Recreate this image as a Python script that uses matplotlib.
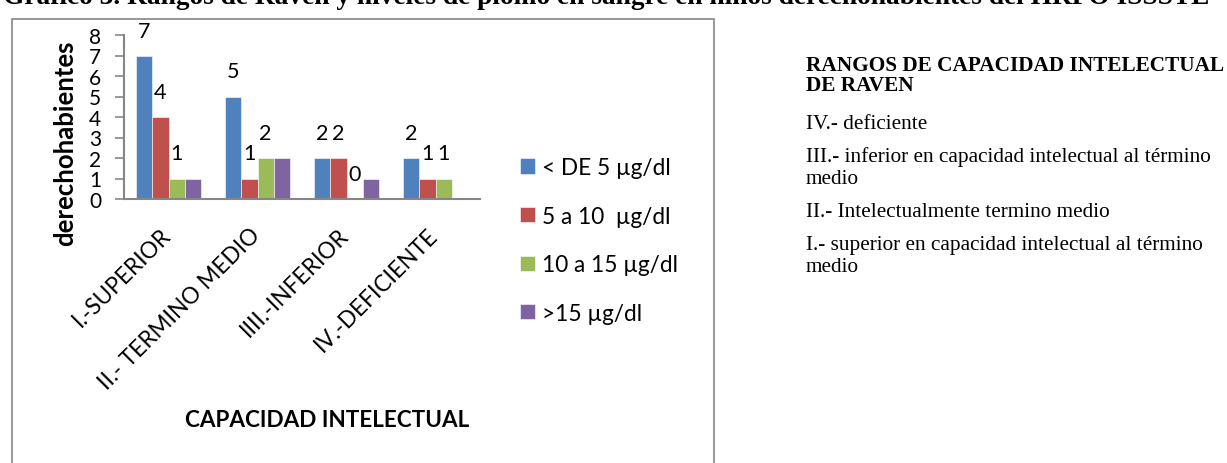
import matplotlib
matplotlib.use("Agg")
import matplotlib.pyplot as plt
import matplotlib.transforms as mtransforms
from matplotlib.patches import Rectangle
import numpy as np

categories = ["I.-SUPERIOR", "II.- TERMINO MEDIO", "IIII.-INFERIOR", "IV.-DEFICIENTE"]
series_names = ["< DE 5 µg/dl", "5 a 10  µg/dl", "10 a 15 µg/dl", ">15 µg/dl"]
menos_5 = [7, 5, 2, 2]
de_5_10 = [4, 1, 2, 1]
de_10_15 = [1, 2, 0, 1]
mas_15 = [1, 2, 1, 0]
colors = ["#4F81BD", "#C0504D", "#9BBB59", "#8064A2"]
# purple series has no data labels in the original
show_labels = [True, True, True, False]

title = "Gráfico 3. Rangos de Raven y niveles de plomo en sangre en niños derechohabientes del HRPO ISSSTE"
side_heading = "RANGOS DE CAPACIDAD INTELECTUAL\nDE RAVEN"
side_lines = [
    "IV.- deficiente",
    "III.- inferior en capacidad intelectual al término\nmedio",
    "II.- Intelectualmente termino medio",
    "I.- superior en capacidad intelectual al término\nmedio",
]

W, H = 1227, 464
fig = plt.figure(figsize=(W / 100, H / 100), dpi=100)
sans = ["Lato", "DejaVu Sans"]
serif = ["Liberation Serif", "DejaVu Serif"]

def fx(px):
    return px / W

def fy(py):
    return 1 - py / H

# chart border
fig.patches.append(Rectangle((fx(12), fy(470)), fx(714) - fx(12), fy(20) - fy(470),
                             transform=fig.transFigure, fill=False,
                             edgecolor="#868686", linewidth=1.2))

ax = fig.add_axes([fx(124), fy(200), fx(480) - fx(124), fy(36) - fy(200)])

all_series = [menos_5, de_5_10, de_10_15, mas_15]
x = np.arange(len(categories))
bw = 0.18
for i, vals in enumerate(all_series):
    pos = x + (i - 1.5) * bw
    ax.bar(pos, vals, width=bw, color=colors[i], label=series_names[i],
           edgecolor="white", linewidth=0.4)
    if show_labels[i]:
        for xp, v in zip(pos, vals):
            ax.annotate(str(v), (xp, v), xytext=(0, 18), textcoords="offset points",
                        ha="center", va="center", fontsize=15.5, family=sans)

ax.set_xlim(-0.5, 3.5)
ax.set_ylim(0, 8)
ax.set_yticks(range(0, 9))
ax.tick_params(axis="y", labelsize=15, length=6.5, width=1.2, color="#868686", pad=10)
for lab in ax.get_yticklabels():
    lab.set_family(sans)
ax.set_xticks(x)
ax.set_xticklabels(categories, rotation=45, ha="right", va="center",
                   rotation_mode="anchor", fontsize=16.3, family=sans)
ax.tick_params(axis="x", length=0, pad=0)
offset = mtransforms.ScaledTranslation(-1 / 100, -32 / 100, fig.dpi_scale_trans)
for lab in ax.get_xticklabels():
    lab.set_transform(lab.get_transform() + offset)

for s in ["top", "right"]:
    ax.spines[s].set_visible(False)
for s in ["left", "bottom"]:
    ax.spines[s].set_color("#868686")
    ax.spines[s].set_linewidth(1.5)

fig.text(fx(65), fy(143), "derechohabientes", rotation=90, ha="center", va="center",
         fontsize=18.5, fontweight="bold", family=sans)
fig.text(fx(327), fy(421), "CAPACIDAD INTELECTUAL", ha="center", va="center",
         fontsize=16.2, fontweight="bold", family=sans)

fig.legend(loc="upper left", bbox_to_anchor=(fx(520), fy(158)), frameon=False,
           prop={"family": sans, "size": 16.3}, handlelength=0.65, handleheight=0.65,
           handletextpad=0.3, labelspacing=1.22, borderaxespad=0, borderpad=0)

# cut-off caption at the very top, only its lower part shows
fig.text(fx(3), fy(-15), title, ha="left", va="top", fontsize=19.7,
         fontweight="bold", family=serif)

fig.text(fx(806), fy(56), side_heading, ha="left", va="top", fontsize=15.3,
         fontweight="bold", family=serif, linespacing=1.02)
side_y = [125, 168.5, 213, 256.5]
for yy, txt in zip(side_y, side_lines):
    fig.text(fx(806), fy(yy), txt, ha="left", va="center", fontsize=15.3,
             family=serif, linespacing=1.22)

fig.savefig("out.png", dpi=100)
